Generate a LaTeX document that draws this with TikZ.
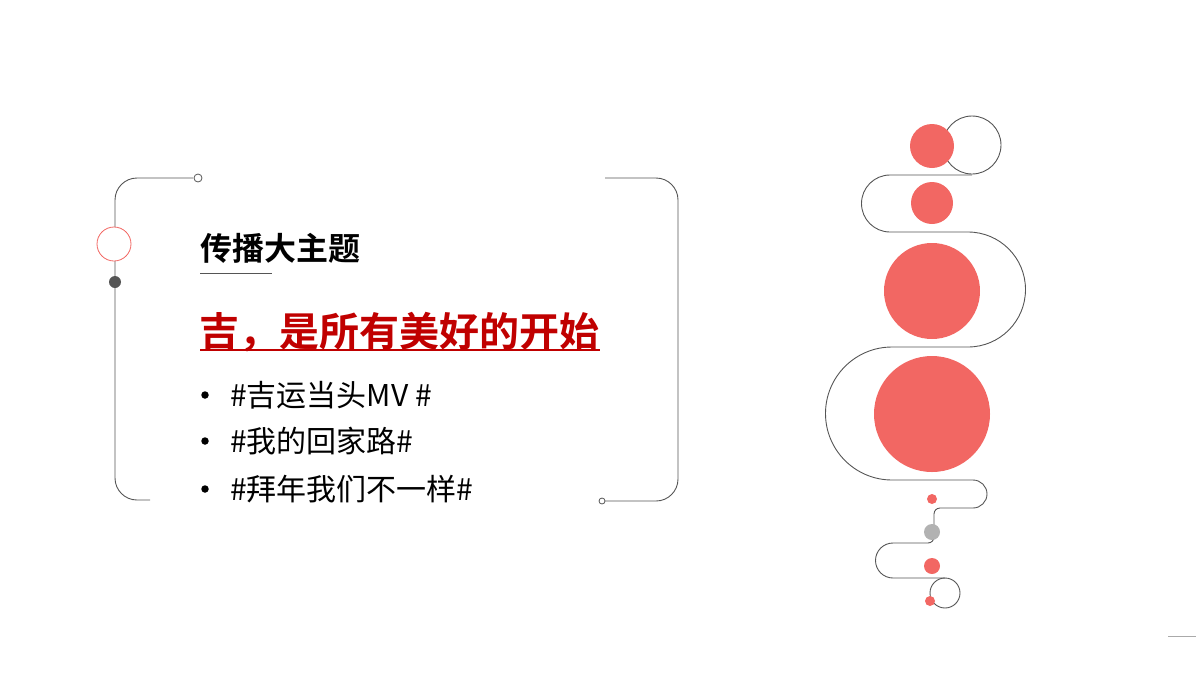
\documentclass[tikz,border=0pt]{standalone}
\usepackage{fontspec}
\newfontfamily\cjk{Noto Sans CJK SC}
\newfontfamily\cjkb{Noto Sans CJK SC Bold}
\definecolor{cred}{HTML}{F26763}
\definecolor{dred}{HTML}{C00000}
\definecolor{lgray}{HTML}{555555}
\begin{document}
\begin{tikzpicture}[x=1pt,y=-1pt,
  ln/.style={draw=lgray,line width=0.9pt},
  dot/.style={circle,fill=cred,inner sep=0pt,minimum size=#1},
  txt/.style={anchor=west,inner sep=0pt}]
\useasboundingbox (0,0) rectangle (1200,675);
% left bracket
\draw[ln,rounded corners=22pt] (193,178) -- (115,178) -- (115,500) -- (150,500);
\node[circle,draw=lgray,fill=white,line width=0.8pt,inner sep=0pt,minimum size=8pt] (lc) at (198,178) {};
\node[circle,draw=cred,fill=white,line width=0.8pt,inner sep=0pt,minimum size=34pt] (rc) at (114,244) {};
\node[circle,fill=lgray,inner sep=0pt,minimum size=12pt] (dc) at (115,282) {};
% right bracket
\draw[ln,rounded corners=22pt] (605,178) -- (678,178) -- (678,501) -- (599,501);
\node[circle,draw=lgray,fill=white,line width=0.8pt,inner sep=0pt,minimum size=6pt] (rc2) at (602,501) {};
% texts
\node[txt] (h) at (200,248) {\cjkb\fontsize{32}{36}\selectfont 传播大主题};
\draw[lgray,line width=0.9pt] (200,273) -- (272,273);
\node[txt,text=dred] (t) at (199,332) {\cjkb\fontsize{40}{44}\selectfont 吉，是所有美好的开始};
\draw[dred,line width=2pt] (200,350) -- (600,350);
\foreach \y/\s in {395/{\#吉运当头MV \#},441/{\#我的回家路\#},489/{\#拜年我们不一样\#}}{
  \node[circle,fill=black,inner sep=0pt,minimum size=7.5pt] at (205,\y) {};
  \node[txt] at (230,\y) {\cjk\fontsize{30}{34}\selectfont \s};
}
% right decoration path
\draw[ln] (972,175) -- (890,175) arc[start angle=-90,end angle=-270,radius=28.5]
  -- (968,232) arc[start angle=-90,end angle=90,radius=57.5]
  -- (892,347) arc[start angle=-90,end angle=-270,radius=66.5]
  -- (973,480) arc[start angle=-90,end angle=90,radius=14]
  -- (940,508) arc[start angle=-90,end angle=-180,radius=6] -- (934,537)
  arc[start angle=0,end angle=90,radius=6] -- (893,543)
  arc[start angle=-90,end angle=-270,radius=17.5] -- (945,578);
\draw[ln] (972,145) circle[radius=29];
\draw[ln] (945,593) circle[radius=15];
\node[dot=44pt] (c1) at (932,146) {};
\node[dot=42pt] (c2) at (932,203) {};
\node[dot=96pt] (c3) at (932,291) {};
\node[dot=116pt] (c4) at (932,414) {};
\node[dot=10pt] (c5) at (932,499) {};
\node[circle,fill=lgray!45,inner sep=0pt,minimum size=16pt] (c6) at (932,532) {};
\node[dot=16pt] (c7) at (932,566) {};
\node[dot=10pt] (c8) at (930,601) {};
\draw[lgray!50,line width=1pt] (1168,636) -- (1196,636);
\end{tikzpicture}
\end{document}
